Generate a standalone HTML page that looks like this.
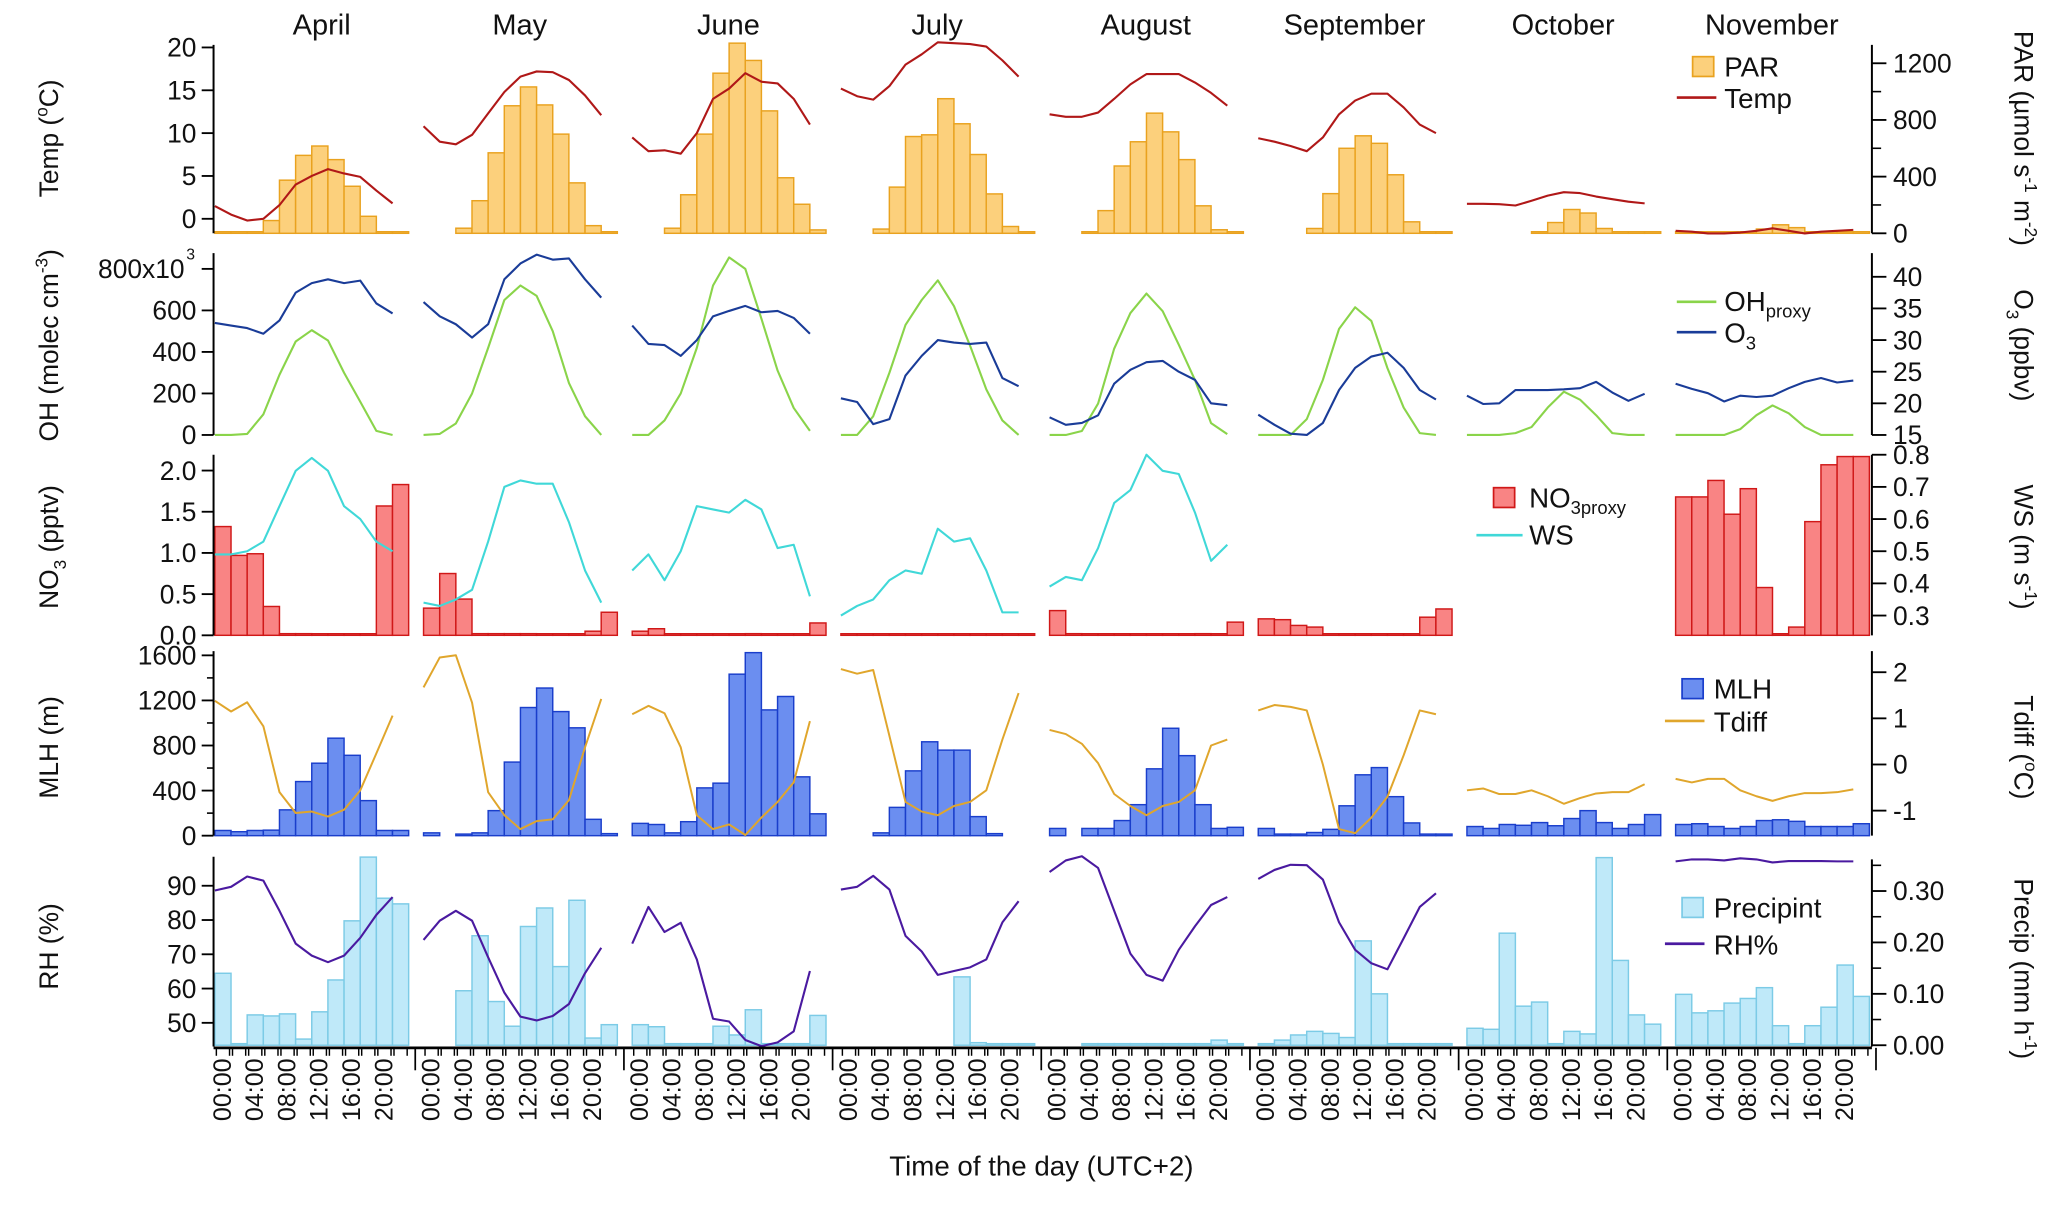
<!DOCTYPE html>
<html><head><meta charset="utf-8"><title>Diurnal cycles</title>
<style>
html,body{margin:0;padding:0;background:#fff;}
svg{display:block;font-family:"Liberation Sans Narrow","Liberation Sans",sans-serif;}
text{fill:#111;}
</style></head>
<body>
<svg id="chart" xmlns="http://www.w3.org/2000/svg" width="2067" height="1210" viewBox="0 0 1568 918" preserveAspectRatio="none">
<rect width="1568" height="918" fill="#fff"/>
</svg>
<script>
const months=["April","May","June","July","August","September","October","November"];
const hourLabels=["00:00","04:00","08:00","12:00","16:00","20:00"];
const parVals=[[0,0,0,90,375,550,616,520,332,120,5,5],[null,null,36,230,568,900,1033,906,700,356,54,5],[null,null,36,272,700,1130,1342,1220,864,392,205,24],[null,null,30,326,683,695,950,773,556,278,48,5],[null,null,5,160,475,646,848,716,520,194,25,5],[null,null,null,34,280,600,688,635,413,81,5,5],[null,null,null,null,5,76,168,143,34,5,5,5],[5,5,5,5,10,30,60,40,10,5,5,5]];
const tempVals=[[1.5,0.5,-0.2,0,1.6,4.0,5.0,5.8,5.3,4.9,3.3,1.8],[10.8,9,8.7,9.8,12.3,14.8,16.6,17.2,17.1,16.2,14.4,12.1],[9.5,7.9,8,7.6,10,14,15.2,17,16,15.8,14,11],[15.2,14.3,13.9,15.5,18,19.2,20.6,20.5,20.4,20.1,18.5,16.6],[12.2,11.9,11.9,12.4,14,15.7,16.9,16.9,16.9,15.9,14.7,13.2],[9.4,9.0,8.5,7.9,9.5,12.2,13.8,14.6,14.6,13,11,10],[1.75,1.75,1.7,1.55,2.1,2.7,3.1,3.0,2.6,2.3,2.0,1.8],[-1.4,-1.5,-1.7,-1.7,-1.6,-1.4,-1.1,-1.4,-1.7,-1.5,-1.4,-1.3]];
const ohVals=[[0,0,5,100,290,450,505,455,300,160,20,0],[0,5,55,200,420,650,720,670,500,250,90,0],[0,0,70,200,420,720,855,800,560,310,130,20],[0,0,90,300,530,650,745,620,430,220,70,0],[0,0,19,151,416,587,681,596,435,265,57,4],[0,0,0,76,265,511,615,549,322,132,9,0],[0,0,0,9,38,132,208,170,95,9,0,0],[0,0,0,0,28,95,142,104,38,0,0,0]];
const o3Vals=[[32.7,32.3,31.9,31,33.1,37.5,39,39.6,39,39.4,35.8,34.2],[36,33.75,32.5,30.4,32.5,39.6,42.1,43.5,42.7,42.9,39.6,36.7],[32.3,29.4,29.2,27.5,30,33.75,34.6,35.4,34.4,34.6,33.5,31],[20.8,20.2,16.7,17.5,24.4,27.5,30,29.6,29.4,29.6,24,22.7],[17.8,16.6,16.9,18.1,23.1,25.3,26.5,26.7,25,23.7,20,19.7],[18.2,16.6,15.2,15,16.9,22.1,25.6,27.4,28,25.6,22.1,20.6],[21.2,19.9,20.0,22.1,22.1,22.1,22.2,22.4,23.4,21.7,20.4,21.5],[23.1,22.3,21.6,20.3,21.2,21.0,21.2,22.4,23.4,24,23.3,23.6]];
const no3Vals=[[1.32,0.97,0.99,0.35,0.02,0.02,0,0,0,0,1.57,1.83],[0.33,0.75,0.44,0.02,0.02,0.02,0.02,0,0,0,0.05,0.28],[0.05,0.08,0,0,0,0,0,0.02,0,0,0,0.15],[0,0,0,0,0,0,0,0,0,0,0,0],[0.3,0.02,0,0,0,0,0,0,0,0.02,0,0.16],[0.2,0.19,0.12,0.1,0,0,0,0,0,0,0.22,0.32],[null,null,null,null,null,null,null,null,null,null,null,null],[1.68,1.68,1.88,1.47,1.78,0.58,0,0.1,1.38,2.07,2.17,2.17]];
const wsVals=[[0.49,0.49,0.5,0.53,0.64,0.75,0.79,0.75,0.64,0.6,0.53,0.5],[0.34,0.33,0.35,0.38,0.53,0.7,0.72,0.71,0.71,0.59,0.44,0.34],[0.44,0.49,0.41,0.5,0.64,0.63,0.62,0.66,0.63,0.51,0.52,0.36],[0.3,0.33,0.35,0.41,0.44,0.43,0.57,0.53,0.54,0.44,0.31,0.31],[0.39,0.42,0.41,0.51,0.65,0.69,0.8,0.75,0.74,0.62,0.47,0.52],[null,null,null,null,null,null,null,null,null,null,null,null],[null,null,null,null,null,null,null,null,null,null,null,null],[null,null,null,null,null,null,null,null,null,null,null,null]];
const mlhVals=[[46,35,46,49,229,480,643,865,713,311,46,46],[25,null,11,25,222,653,1137,1310,1101,957,145,18],[109,99,25,124,424,466,1433,1624,1116,1235,522,194],[null,null,25,251,575,833,759,759,169,18,null,null],[64,null,64,64,134,275,593,953,710,275,64,74],[64,11,11,28,56,265,540,604,346,113,14,14],[81,64,99,92,116,88,152,222,116,64,99,187],[99,106,81,64,81,134,141,127,81,81,81,106]];
const tdiffVals=[[1.38,1.15,1.35,0.83,-0.6,-1.05,-1.02,-1.13,-0.98,-0.56,0.24,1.06],[1.67,2.32,2.37,1.34,-0.6,-1.1,-1.4,-1.23,-1.19,-0.77,0.37,1.42],[1.09,1.27,1.11,0.37,-1.1,-1.4,-1.3,-1.53,-1.15,-0.81,-0.39,0.94],[2.07,1.97,2.05,0.62,-0.81,-1.02,-1.1,-0.9,-0.81,-0.56,0.54,1.55],[0.75,0.66,0.45,0.03,-0.64,-0.9,-1.1,-0.9,-0.81,-0.56,0.41,0.54],[1.17,1.29,1.25,1.17,0.0,-1.4,-1.49,-1.15,-0.7,0.2,1.17,1.09],[-0.56,-0.52,-0.64,-0.64,-0.56,-0.69,-0.85,-0.73,-0.63,-0.6,-0.6,-0.43],[-0.31,-0.39,-0.31,-0.31,-0.56,-0.69,-0.79,-0.69,-0.62,-0.62,-0.6,-0.54]];
const precipVals=[[0.14,0,0.059,0.057,0.061,0.012,0.065,0.127,0.242,0.366,0.286,0.275],[null,null,0.106,0.213,0.085,0.037,0.231,0.267,0.153,0.282,0.014,0.04],[0.04,0.036,0,0,0,0.037,0.02,0.069,0,0,0,0.058],[null,null,null,null,null,null,null,0.133,0.005,0,0,0],[null,null,0,0,0,0,0,0,0.002,0.002,0.01,0.002],[0,0.01,0.02,0.027,0.023,0.015,0.203,0.1,0,0,0,0],[0.033,0.031,0.218,0.076,0.084,0,0.027,0.022,0.365,0.165,0.059,0.041],[0.099,0.063,0.067,0.082,0.091,0.112,0.038,0,0.038,0.074,0.156,0.095]];
const rhVals=[[88.6,89.7,92.7,91.5,82.7,73.1,69.6,67.7,69.6,74.8,81.5,86.7],[74.2,79.8,82.7,79.8,69.1,58.8,51.8,50.7,52,55.5,64.5,71.9],[73.1,83.8,76.5,79.2,68.5,51.2,50.4,45,43.2,44.3,47.5,65.1],[88.9,89.7,92.9,88.9,75.4,70.8,64,65.1,66.2,68.5,79.3,85.5],[94,97.4,98.6,95.2,82.7,70.2,64,62.3,71.3,78.2,84.4,86.7],[92,94.6,96.1,96,91.8,79.3,71.3,67.4,65.6,74.7,83.8,87.8],[null,null,null,null,null,null,null,null,null,null,null,null],[97.1,97.7,97.7,97.4,98,97.7,96.8,97.2,97.2,97.2,97.1,97.1]];
const tempTicks=[0,5,10,15,20], parTicks=[0,400,800,1200], ohTicks=[0,200,400,600,800], o3Ticks=[15,20,25,30,35,40];
const no3Ticks=[0,0.5,1,1.5,2], wsTicks=[0.3,0.4,0.5,0.6,0.7,0.8], mlhTicks=[0,400,800,1200,1600], tdTicks=[-1,0,1,2];
const rhTicks=[50,60,70,80,90], prTicks=[0,0.1,0.2,0.3];

const NS="http://www.w3.org/2000/svg";
const svg=document.getElementById('chart');
function el(tag,attrs,parent){const e=document.createElementNS(NS,tag);for(const k in attrs)e.setAttribute(k,attrs[k]);(parent||svg).appendChild(e);return e;}
const AX=162, RAX=1420, BW=12.25;
function x0(i){return 163+i*158.3;}
const yTemp=v=>166-v*6.5, yPar=v=>177-v*0.1075;
const yOH=v=>330-v*0.1575, yO3=v=>330-(v-15)*4.8;
const yNO3=v=>482-v*62.5, yWS=v=>467-(v-0.3)*244;
const yMLH=v=>634-v*0.0855, yTd=v=>580-v*35;
const yRH=v=>672-(v-90)*2.6, yPr=v=>793-v*390;

function bars(vals,yf,base,fill,stroke,name){
  vals.forEach((arr,i)=>{arr.forEach((v,k)=>{if(v===null)return;
    const yt=Math.min(yf(v),base-1.2);
    const r=el('rect',{x:x0(i)+k*BW,y:yt,width:BW,height:base-yt,fill:fill,stroke:stroke,'stroke-width':1.1});
    
    
  });});
}
function lines(vals,yf,color,name,w){
  vals.forEach((arr,i)=>{let seg=[];const segs=[];
    arr.forEach((v,k)=>{if(v===null){if(seg.length)segs.push(seg);seg=[];}else seg.push([x0(i)+k*BW,yf(v)]);});
    if(seg.length)segs.push(seg);
    segs.forEach(s=>{const p=el('polyline',{points:s.map(q=>q[0].toFixed(1)+','+q[1].toFixed(1)).join(' '),fill:'none',stroke:color,'stroke-width':w||1.6,'stroke-linejoin':'round'});
      
      });
  });
}
function txt(s,x,y,size,anchor,name,extra){const t=el('text',Object.assign({x:x,y:y,'font-size':size,'text-anchor':anchor||'start'},extra||{}));t.textContent=s;
  
  return t;}
function leftAxis(top,bot,ticks,yf,fmt,name,minor){
  const l=el('line',{x1:AX,y1:top,x2:AX,y2:bot,stroke:'#000','stroke-width':1.5});
  
  
  ticks.forEach(v=>{const y=yf(v);el('line',{x1:AX-9,y1:y,x2:AX,y2:y,stroke:'#000','stroke-width':1.4});
    txt(fmt(v),AX-13,y+7,20,'end',name+'-tick-label');});
  (minor||[]).forEach(v=>{const y=yf(v);el('line',{x1:AX-5,y1:y,x2:AX,y2:y,stroke:'#000','stroke-width':1.2});});
}
function rightAxis(top,bot,ticks,yf,fmt,name,minor){
  const l=el('line',{x1:RAX,y1:top,x2:RAX,y2:bot,stroke:'#000','stroke-width':1.5});
  
  
  ticks.forEach(v=>{const y=yf(v);el('line',{x1:RAX,y1:y,x2:RAX+11,y2:y,stroke:'#000','stroke-width':1.4});
    txt(fmt(v),RAX+16,y+7,20,'start',name+'-tick-label');});
  (minor||[]).forEach(v=>{const y=yf(v);el('line',{x1:RAX,y1:y,x2:RAX+7,y2:y,stroke:'#000','stroke-width':1.2});});
}

months.forEach((m,i)=>{txt(m,x0(i)+73+(i===0?8:0),26,22,'middle','month-title-'+m.toLowerCase());});

bars(parVals,yPar,177,'#fcd07c','#e9a21f','par');
lines(tempVals,yTemp,'#b01818','temp');
leftAxis(34,177,tempTicks,yTemp,v=>String(v),'temp');
rightAxis(34,177,parTicks,yPar,v=>String(v),'par',[200,600,1000]);
lines(ohVals,yOH,'#8ad44a','oh');
lines(o3Vals,yO3,'#1a3c98','o3');
leftAxis(192,330,ohTicks,yOH,v=>v===800?'':String(v),'oh');
txt('800x10',AX-22,204+7,20,'end','oh-top-tick-label');
txt('3',AX-14,197,12,'end','oh-top-tick-exponent');
rightAxis(192,330,o3Ticks,yO3,v=>String(v),'o3');
bars(no3Vals,yNO3,482,'#f98484','#d01818','no3');
lines(wsVals,yWS,'#40d8d8','ws');
leftAxis(345,482,no3Ticks,yNO3,v=>v.toFixed(1),'no3');
rightAxis(345,482,wsTicks,yWS,v=>v.toFixed(1),'ws');
bars(mlhVals,yMLH,634,'#6b8ef0','#1a3ecb','mlh');
lines(tdiffVals,yTd,'#e0a62c','tdiff',1.5);
leftAxis(494,634,mlhTicks,yMLH,v=>String(v),'mlh',[200,600,1000,1400]);
rightAxis(494,634,tdTicks,yTd,v=>String(v),'tdiff');
bars(precipVals,yPr,793,'#bfe9f9','#7ccbe6','precip');
lines(rhVals,yRH,'#4a1aa0','rh');
leftAxis(650,794,rhTicks,yRH,v=>String(v),'rh');
rightAxis(652,794,prTicks,yPr,v=>v.toFixed(2),'precip',[0.05,0.15,0.25,0.35]);

const xl=el('line',{x1:AX,y1:795,x2:RAX,y2:795,stroke:'#000','stroke-width':2});


months.forEach((m,i)=>{
  for(let k=0;k<12;k++){const x=x0(i)+k*BW+BW/2;el('line',{x1:x-5,y1:795,x2:x-5,y2:801,stroke:'#000','stroke-width':1.1});el('line',{x1:x+5,y1:795,x2:x+5,y2:801,stroke:'#000','stroke-width':1.1});}
  el('line',{x1:x0(i)+147+5,y1:795,x2:x0(i)+147+5,y2:812,stroke:'#000','stroke-width':1.3});
  hourLabels.forEach((h,j)=>{const x=x0(i)+BW/2+j*2*BW+6;
    txt(h,x,803,19,'end','x-tick-label-'+m.toLowerCase(),{transform:'rotate(-90 '+x+' 803)','font-family':'Liberation Sans, sans-serif'});});
});
txt('Time of the day (UTC+2)',790,892,21,'middle','x-axis-title');

// parts: [text, dy, small]
function rot(x,y,ang,name,parts){const t=el('text',{x:x,y:y,'font-size':20,'text-anchor':'middle',transform:'rotate('+ang+' '+x+' '+y+')','font-family':'Liberation Sans, sans-serif'});
  
  
  parts.forEach(p=>{const a={};if(p[1])a.dy=p[1];a['font-size']=p[2]?13:20;const s=el('tspan',a,t);s.textContent=p[0];});return t;}
rot(44,105,-90,'temp-axis-title',[['Temp (',0,0],['o',-8,1],['C)',8,0]]);
rot(44,262,-90,'oh-axis-title',[['OH (molec cm',0,0],['-3',-8,1],[')',8,0]]);
rot(44,415,-90,'no3-axis-title',[['NO',0,0],['3',6,1],[' (pptv)',-6,0]]);
rot(44,567,-90,'mlh-axis-title',[['MLH (m)',0,0]]);
rot(44,718,-90,'rh-axis-title',[['RH (%)',0,0]]);
rot(1528,105,90,'par-axis-title',[['PAR (µmol s',0,0],['-1',-8,1],[' m',8,0],['-2',-8,1],[')',8,0]]);
rot(1528,262,90,'o3-axis-title',[['O',0,0],['3',6,1],[' (ppbv)',-6,0]]);
rot(1528,415,90,'ws-axis-title',[['WS (m s',0,0],['-1',-8,1],[')',8,0]]);
rot(1528,567,90,'tdiff-axis-title',[['Tdiff (',0,0],['o',-8,1],['C)',8,0]]);
rot(1528,735,90,'precip-axis-title',[['Precip (mm h',0,0],['-1',-8,1],[')',8,0]]);

function legBox(x,y,fill,stroke,name){const r=el('rect',{x:x,y:y,width:16,height:15,fill:fill,stroke:stroke,'stroke-width':1.3});}
function legLine(x1,x2,y,color,name){const l=el('line',{x1:x1,y1:y,x2:x2,y2:y,stroke:color,'stroke-width':2});}
legBox(1284,43,'#fcd07c','#e9a21f','legend-par-swatch'); txt('PAR',1308,58,21,'start','legend-par-label');
legLine(1272,1302,74,'#b01818','legend-temp-swatch'); txt('Temp',1308,82,21,'start','legend-temp-label');
legLine(1272,1302,229,'#8ad44a','legend-oh-swatch');
const ohL=txt('OH',1308,236,21,'start','legend-oh-label'); const sp=el('tspan',{'font-size':14,dy:5},ohL); sp.textContent='proxy';
legLine(1272,1302,252,'#1a3c98','legend-o3-swatch');
const o3L=txt('O',1308,260,21,'start','legend-o3-label'); const sp2=el('tspan',{'font-size':14,dy:5},o3L); sp2.textContent='3';
legBox(1133,370,'#f98484','#d01818','legend-no3-swatch');
const nL=txt('NO',1160,385,21,'start','legend-no3-label'); const sp3=el('tspan',{'font-size':14,dy:5},nL); sp3.textContent='3proxy';
legLine(1120,1155,406,'#40d8d8','legend-ws-swatch'); txt('WS',1160,413,21,'start','legend-ws-label');
legBox(1276,515,'#6b8ef0','#1a3ecb','legend-mlh-swatch'); txt('MLH',1300,530,21,'start','legend-mlh-label');
legLine(1263,1293,547,'#e0a62c','legend-tdiff-swatch'); txt('Tdiff',1300,555,21,'start','legend-tdiff-label');
legBox(1276,681,'#bfe9f9','#7ccbe6','legend-precip-swatch'); txt('Precipint',1300,696,21,'start','legend-precip-label');
legLine(1263,1293,716,'#4a1aa0','legend-rh-swatch'); txt('RH%',1300,724,21,'start','legend-rh-label');
</script>
</body></html>
